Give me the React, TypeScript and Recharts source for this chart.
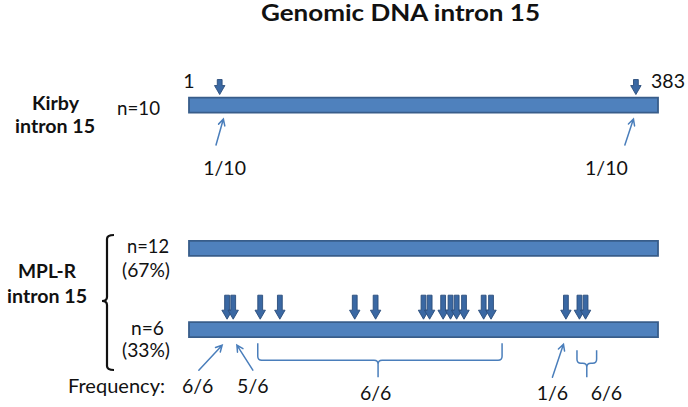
import React from 'react';
import { ComposedChart, XAxis, YAxis, Scatter, ReferenceArea, ReferenceLine, Customized } from 'recharts';

// ---------------- data ----------------
const INTRON_START = 1;
const INTRON_END = 383;
const trackCounts = ['n=10', 'n=12', 'n=6'];
const trackShares = ['', '(67%)', '(33%)'];
// variant sites (bp) marked with thick arrows
const kirbySites = [26, 365];
const mplSites = [32, 37, 59, 75, 136, 153, 192, 197, 208, 214, 219, 225, 241, 247, 308, 319, 324];
// Kirby frequency arrows
const kirbyFreqTails = [23, 356];
const kirbyFreqTips = [29, 363];
const kirbyFreqLabels = ['1/10', '1/10'];
const kirbyFreqLabelBp = [30, 341];
// MPL-R frequency arrows
const mplFreqTails = [9, 53, 297];
const mplFreqTips = [28, 40, 306];
const mplFreqLabels = ['6/6', '5/6', '1/6'];
const mplFreqLabelBp = [8, 53, 297];
// MPL-R frequency brackets
const mplBracketStart = [57, 317];
const mplBracketEnd = [256, 333];
const mplBracketMid = [155, 325];
const mplBracketLabels = ['6/6', '6/6'];
const mplBracketLabelBp = [153, 341];

// ---------------- layout ----------------
const W = 688;
const H = 407;
const BAR_LEFT_PX = 189;
const BAR_RIGHT_PX = 658;
const PX_PER_BP = (BAR_RIGHT_PX - BAR_LEFT_PX) / (INTRON_END - INTRON_START);
const X_DOMAIN = [INTRON_START - BAR_LEFT_PX / PX_PER_BP, INTRON_END + (W - BAR_RIGHT_PX) / PX_PER_BP];
const PX_PER_LANE = 81.4;
const LANE0_PX = 329.7;
const Y_DOMAIN = [-(H - LANE0_PX) / PX_PER_LANE, LANE0_PX / PX_PER_LANE];
const LANES = [2.76, 1, 0]; // Kirby, MPL-R n=12, MPL-R n=6
const BAR_PX = 15;
const BAR_HALF = BAR_PX / 2 / PX_PER_LANE;

const FONT = "Lato, 'Open Sans', 'DejaVu Sans', sans-serif";
const BAR_FILL = '#4f81bd';
const BAR_STROKE = '#385d8a';
const ARROW_FILL = '#3a68a3';
const ARROW_STROKE = '#2a4d7b';
const THIN = '#4a7ebb';

const downArrow = (len: number) => (p: any) => {
  const { cx, cy } = p;
  if (cx == null || cy == null) return <g />;
  const tip = cy - BAR_PX / 2 - 3;
  const top = tip - len;
  const hw = 5.2;
  const sw = 2.4;
  const hh = 9;
  const d = `M${cx - sw},${top} L${cx + sw},${top} L${cx + sw},${tip - hh} L${cx + hw},${tip - hh} L${cx},${tip} L${cx - hw},${tip - hh} L${cx - sw},${tip - hh} Z`;
  return <path d={d} fill={ARROW_FILL} stroke={ARROW_STROKE} strokeWidth={0.9} strokeLinejoin="miter" />;
};

const thinArrow = (gap: number, len: number) => (p: any) => {
  const { x1, x2, y1 } = p;
  const tipY = y1 + BAR_PX / 2 + gap;
  const tailY = tipY + len;
  const ang = Math.atan2(tipY - tailY, x2 - x1);
  const hl = 7;
  const spread = 0.48;
  const a1 = ang + Math.PI - spread;
  const a2 = ang + Math.PI + spread;
  const d = `M${x1},${tailY} L${x2},${tipY} M${x2 + hl * Math.cos(a1)},${tipY + hl * Math.sin(a1)} L${x2},${tipY} L${x2 + hl * Math.cos(a2)},${tipY + hl * Math.sin(a2)}`;
  return <path d={d} stroke={THIN} strokeWidth={1.5} fill="none" strokeLinecap="round" />;
};

const bracket = (start: number, end: number, mid: number, topGap: number, depth: number, cusp: number) => (p: any) => {
  const { x1, x2, y1 } = p;
  const xm = x1 + ((mid - start) / (end - start)) * (x2 - x1);
  const top = y1 + BAR_PX / 2 + topGap;
  const h = top + depth;
  const r = 4;
  const d = `M${x1},${top} L${x1},${h - r} Q${x1},${h} ${x1 + r},${h} L${xm - r},${h} Q${xm},${h} ${xm},${h + r} L${xm},${h + cusp} M${xm},${h + r} Q${xm},${h} ${xm + r},${h} L${x2 - r},${h} Q${x2},${h} ${x2},${h - r} L${x2},${top}`;
  return <path d={d} stroke={THIN} strokeWidth={1.5} fill="none" />;
};

const textShape = (dy: number) => (p: any) => {
  const { cx, cy, payload } = p;
  if (cx == null || cy == null) return <g />;
  return (
    <text x={cx} y={cy + dy} textAnchor="middle" fontFamily={FONT} fontSize={19.5} fill="#111">
      {payload.text}
    </text>
  );
};

type T = { x: number; y: number; s: string; w?: number; bold?: boolean; size?: number; anchor?: 'start' | 'middle' };
const staticTexts: T[] = [
  { x: 400.5, y: 21, s: 'Genomic DNA intron 15', w: 279, bold: true, size: 22 },
  { x: 55.5, y: 110, s: 'Kirby', w: 47, bold: true },
  { x: 55, y: 133, s: 'intron 15', w: 80, bold: true },
  { x: 47, y: 278, s: 'MPL-R', w: 58, bold: true },
  { x: 47, y: 303, s: 'intron 15', w: 80, bold: true },
  { x: 138.5, y: 115, s: trackCounts[0], w: 43 },
  { x: 148, y: 253, s: trackCounts[1], w: 42 },
  { x: 146, y: 277, s: trackShares[1], w: 48 },
  { x: 147.5, y: 335, s: trackCounts[2], w: 33 },
  { x: 146, y: 357, s: trackShares[2], w: 48 },
  { x: 68, y: 393, s: 'Frequency:', w: 97, anchor: 'start' },
  { x: 189, y: 88, s: String(INTRON_START) },
  { x: 668, y: 88, s: String(INTRON_END) },
];

const StaticLayer = () => (
  <g>
    {staticTexts.map((t, i) => (
      <text
        key={i}
        x={t.x}
        y={t.y}
        textAnchor={t.anchor || 'middle'}
        fontFamily={FONT}
        fontWeight={t.bold ? 700 : 400}
        fontSize={t.size || 19.5}
        fill="#111"
        textLength={t.w}
        lengthAdjust={t.w ? 'spacingAndGlyphs' : undefined}
      >
        {t.s}
      </text>
    ))}
    <path
      d="M114,235 Q107,235 107,239 L107,297 Q107,301 102,301 Q107,301 107,305 L107,366 Q107,370 114,370"
      stroke="#111"
      strokeWidth={2.2}
      fill="none"
    />
  </g>
);

const kirbySiteData = kirbySites.map((bp) => ({ bp, lane: LANES[0] }));
const mplSiteData = mplSites.map((bp) => ({ bp, lane: LANES[2] }));
const kirbyLabelData = kirbyFreqLabels.map((text, i) => ({ bp: kirbyFreqLabelBp[i], lane: LANES[0], text }));
const mplNearLabelData = mplFreqLabels.slice(0, 2).map((text, i) => ({ bp: mplFreqLabelBp[i], lane: LANES[2], text }));
const mplFarLabelData = [
  { bp: mplFreqLabelBp[2], lane: LANES[2], text: mplFreqLabels[2] },
  ...mplBracketLabels.map((text, i) => ({ bp: mplBracketLabelBp[i], lane: LANES[2], text })),
];

export default function App() {
  return (
    <div style={{ position: 'absolute', left: 0, top: 0, width: W, height: H, background: '#fff' }}>
      <ComposedChart width={W} height={H} margin={{ top: 0, right: 0, bottom: 0, left: 0 }}>
        <XAxis type="number" dataKey="bp" domain={X_DOMAIN} hide allowDecimals />
        <YAxis type="number" dataKey="lane" domain={Y_DOMAIN} hide />
        {LANES.map((lane, i) => (
          <ReferenceArea
            key={i}
            x1={INTRON_START}
            x2={INTRON_END}
            y1={lane - BAR_HALF}
            y2={lane + BAR_HALF}
            fill={BAR_FILL}
            fillOpacity={1}
            stroke={BAR_STROKE}
            strokeWidth={1.8}
            ifOverflow="visible"
          />
        ))}
        <Scatter data={kirbySiteData} shape={downArrow(15)} isAnimationActive={false} />
        <Scatter data={mplSiteData} shape={downArrow(24)} isAnimationActive={false} />
        {kirbyFreqTips.map((tip, i) => (
          <ReferenceLine
            key={'k' + i}
            segment={[{ x: kirbyFreqTails[i], y: LANES[0] }, { x: tip, y: LANES[0] }]}
            shape={thinArrow(6.5, 26)}
            ifOverflow="visible"
          />
        ))}
        {mplFreqTips.map((tip, i) => (
          <ReferenceLine
            key={'m' + i}
            segment={[{ x: mplFreqTails[i], y: LANES[2] }, { x: tip, y: LANES[2] }]}
            shape={i === 2 ? thinArrow(7, 33) : thinArrow(8, 25)}
            ifOverflow="visible"
          />
        ))}
        {mplBracketStart.map((s, i) => (
          <ReferenceLine
            key={'b' + i}
            segment={[{ x: s, y: LANES[2] }, { x: mplBracketEnd[i], y: LANES[2] }]}
            shape={i === 0 ? bracket(s, mplBracketEnd[i], mplBracketMid[i], 6, 17, 17) : bracket(s, mplBracketEnd[i], mplBracketMid[i], 13, 13, 14)}
            ifOverflow="visible"
          />
        ))}
        <Scatter data={kirbyLabelData} shape={textShape(70)} isAnimationActive={false} />
        <Scatter data={mplNearLabelData} shape={textShape(63.5)} isAnimationActive={false} />
        <Scatter data={mplFarLabelData} shape={textShape(70)} isAnimationActive={false} />
        <Customized component={StaticLayer} />
      </ComposedChart>
    </div>
  );
}
